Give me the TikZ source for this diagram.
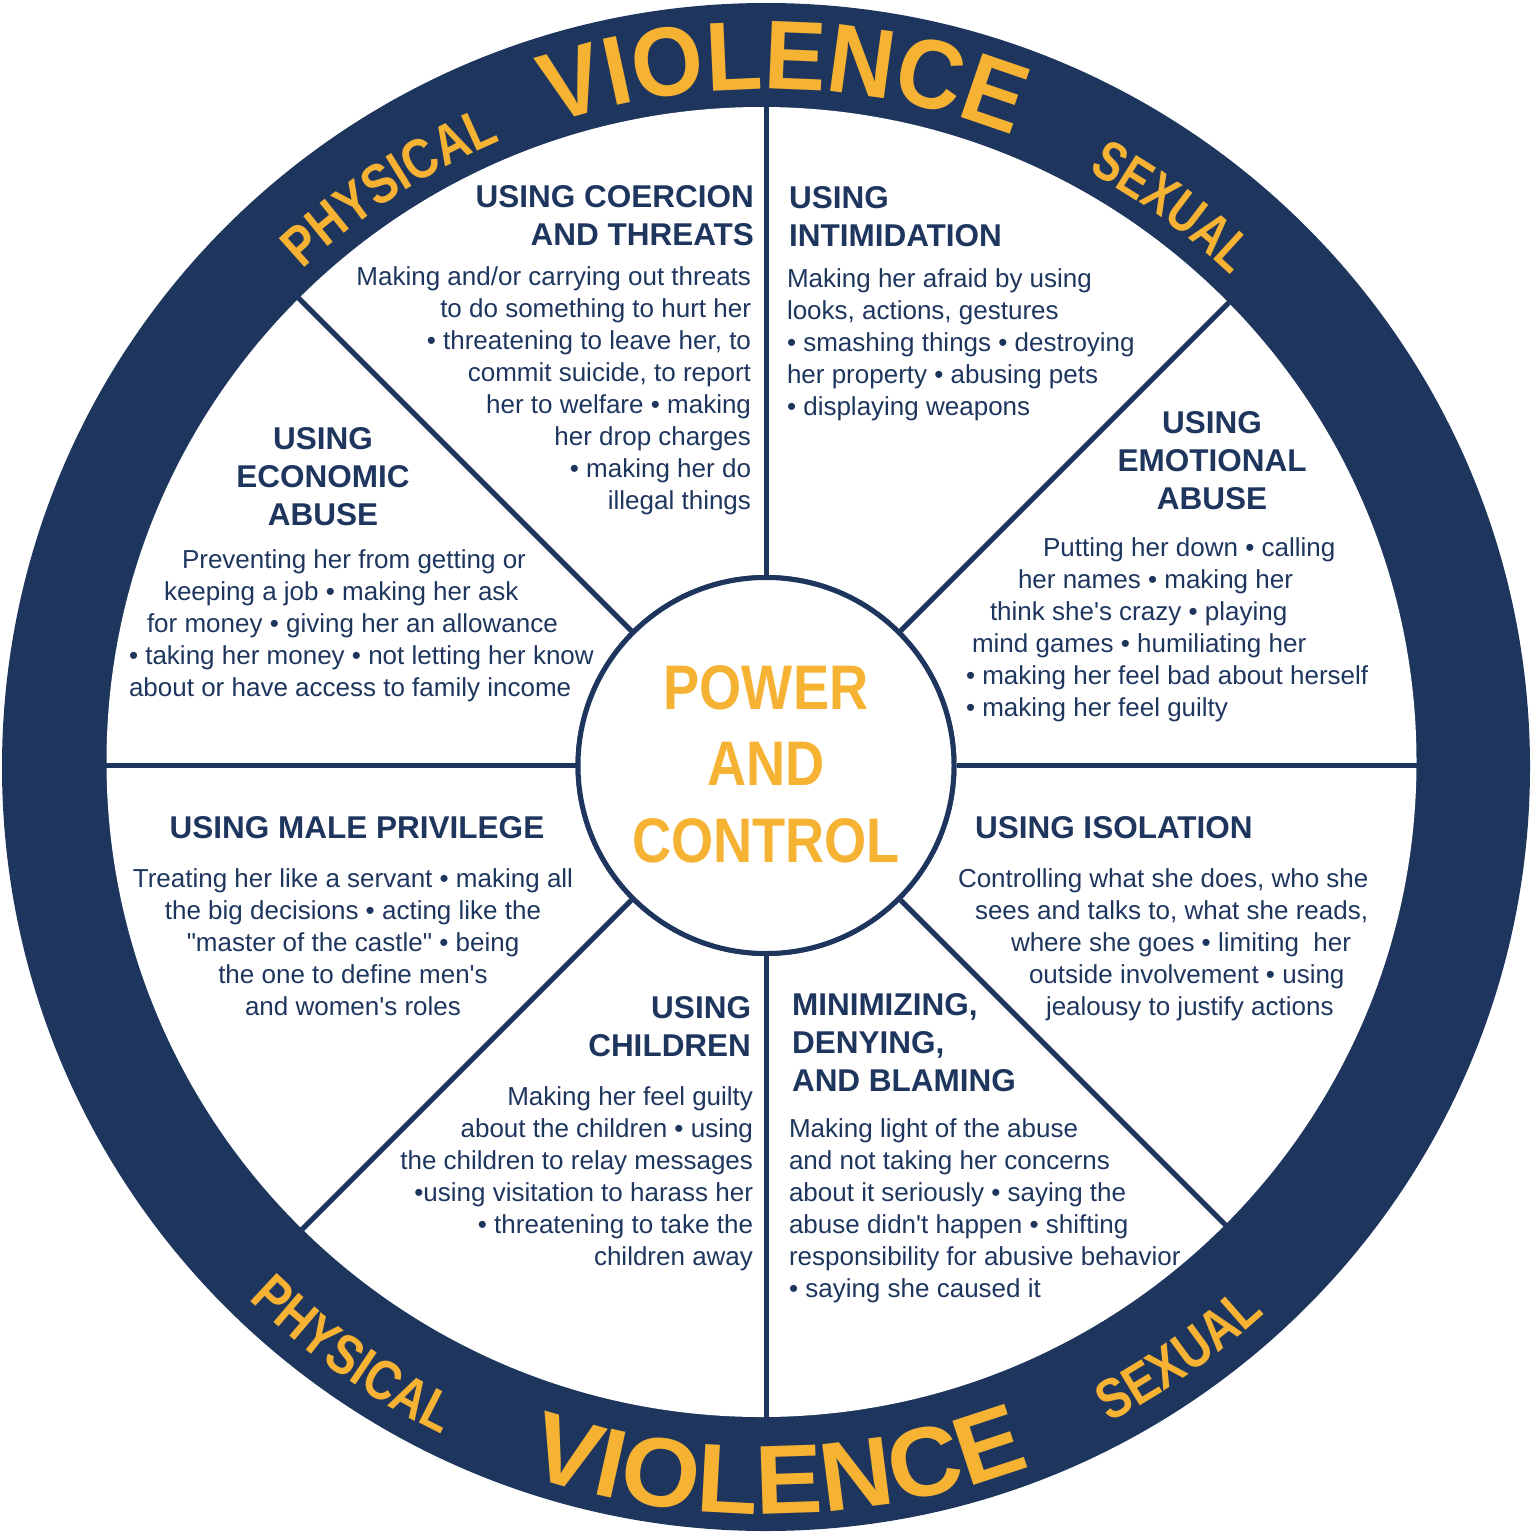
\documentclass[tikz,border=0pt]{standalone}
\usepackage{fontspec}
\setmainfont{Liberation Sans}
\newfontfamily\ringbig[FakeStretch=0.94]{Liberation Sans}
\newfontfamily\ringbot[FakeStretch=1.03]{Liberation Sans}
\newfontfamily\ringsmall[FakeStretch=0.84]{Liberation Sans}
\newfontfamily\ringsex[FakeStretch=0.78]{Liberation Sans}
\newfontfamily\centerfont[FakeStretch=0.86]{Liberation Sans}
\usetikzlibrary{decorations.text,calc}
\definecolor{navy}{RGB}{30,54,94}
\definecolor{gold}{RGB}{246,178,51}
\begin{document}
\begin{tikzpicture}[x=1pt,y=1pt,
  body/.style={text=navy, inner sep=0pt, outer sep=0pt, font=\fontsize{26}{32}\selectfont},
  head/.style={text=navy, inner sep=0pt, outer sep=0pt, font=\fontsize{31.5}{38}\selectfont\bfseries},
  spoke/.style={draw=navy, line width=5pt},
  hub/.style={circle, draw=navy, fill=white, line width=5pt, minimum size=376pt, inner sep=0pt},
]
\useasboundingbox (0,0) rectangle (1533,-1536);
\fill[white] (0,0) rectangle (1533,-1536);
% ring
\coordinate (C) at (766,-766);
\fill[navy] (766,-767) circle[radius=764];
\fill[white] (761.5,-762) circle[radius=655];
% centre circle and spokes
\node[hub] (pc) at (766,-765.5) {};
\foreach \a in {0,45,...,315} {
  \coordinate (s\a) at ($(pc.center)+(\a:700)$);
}
\foreach \a in {0,45,...,315} {
  \draw[spoke] (pc.\a) -- (s\a);
}
\node[hub] (pc2) at (pc.center) {};
\node[anchor=base, inner sep=0pt, text=gold, font=\centerfont\fontsize{63}{76.5}\selectfont\bfseries] (pct) at (766,-709)
  {\begin{tabular}[t]{@{}c@{}}POWER\\AND\\CONTROL\end{tabular}};

% ring texts
\path[decorate, decoration={text along path, text align=center,
  text={|\ringbig\fontsize{98}{98}\selectfont\bfseries\color{gold}|VIOLENCE}}]
  ($(C)+(118.5:677)$) arc[start angle=118.5, end angle=58.5, radius=677];
\path[decorate, decoration={text along path, text align=center,
  text={|\ringsmall\fontsize{56}{56}\selectfont\bfseries\color{gold}|PHYSICAL}}]
  ($(C)+(143:679)$) arc[start angle=143, end angle=103, radius=679];
\path[decorate, decoration={text along path, text align=center,
  text={|\ringsex\fontsize{56}{56}\selectfont\bfseries\color{gold}|SEXUAL}}]
  ($(C)+(74:676)$) arc[start angle=74, end angle=34, radius=676];
\path[decorate, decoration={text along path, text align=center,
  text={|\ringbot\fontsize{98}{98}\selectfont\bfseries\color{gold}|VIOLENCE}}]
  ($(C)+(-119:748)$) arc[start angle=-119, end angle=-59, radius=748];
\path[decorate, decoration={text along path, text align=center,
  text={|\ringsmall\fontsize{56}{56}\selectfont\bfseries\color{gold}|PHYSICAL}}]
  ($(C)+(-145:743)$) arc[start angle=-145, end angle=-105, radius=743];
\path[decorate, decoration={text along path, text align=center,
  text={|\ringsmall\fontsize{56}{56}\selectfont\bfseries\color{gold}|SEXUAL}}]
  ($(C)+(-75:741)$) arc[start angle=-75, end angle=-35, radius=741];

% coercion
\node[head, anchor=base east] (coerH) at (754,-207)
  {\begin{tabular}[t]{@{}r@{}}USING COERCION\\AND THREATS\end{tabular}};
\node[body, anchor=base east] (coerB) at (751,-285)
  {\begin{tabular}[t]{@{}r@{}}Making and/or carrying out threats\\to do something to hurt her\\• threatening to leave her, to\\commit suicide, to report\\her to welfare • making\\her drop charges\\• making her do\\illegal things\end{tabular}};
% intimidation
\node[head, anchor=base west] (intH) at (789,-208)
  {\begin{tabular}[t]{@{}l@{}}USING\\INTIMIDATION\end{tabular}};
\node[body, anchor=base west] (intB) at (787,-287)
  {\begin{tabular}[t]{@{}l@{}}Making her afraid by using\\looks, actions, gestures\\• smashing things • destroying\\her property • abusing pets\\• displaying weapons\end{tabular}};
% economic
\node[head, anchor=base] (ecoH) at (323,-449)
  {\begin{tabular}[t]{@{}c@{}}USING\\ECONOMIC\\ABUSE\end{tabular}};
\node[body, anchor=base west] (ecoB) at (129,-568)
  {\begin{tabular}[t]{@{}l@{}}\hspace*{53pt}Preventing her from getting or\\\hspace*{35pt}keeping a job • making her ask\\\hspace*{18pt}for money • giving her an allowance\\• taking her money • not letting her know\\about or have access to family income\end{tabular}};
% emotional
\node[head, anchor=base] (emoH) at (1212,-433)
  {\begin{tabular}[t]{@{}c@{}}USING\\EMOTIONAL\\ABUSE\end{tabular}};
\node[body, anchor=base west] (emoB) at (966,-556)
  {\begin{tabular}[t]{@{}l@{}}\hspace*{77pt}Putting her down • calling\\\hspace*{52pt}her names • making her\\\hspace*{24pt}think she\textquotesingle s crazy • playing\\\hspace*{6pt}mind games • humiliating her\\• making her feel bad about herself\\• making her feel guilty\end{tabular}};
% male privilege
\node[head, anchor=base] (malH) at (357,-838) {USING MALE PRIVILEGE};
\node[body, anchor=base] (malB) at (353,-887)
  {\begin{tabular}[t]{@{}c@{}}Treating her like a servant • making all\\the big decisions • acting like the\\\textquotedbl master of the castle\textquotedbl\ • being\\the one to define men\textquotesingle s\\and women\textquotesingle s roles\end{tabular}};
% isolation
\node[head, anchor=base west] (isoH) at (975,-838) {USING ISOLATION};
\node[body, anchor=base west] (isoB) at (958,-887)
  {\begin{tabular}[t]{@{}l@{}}Controlling what she does, who she\\\hspace*{17pt}sees and talks to, what she reads,\\\hspace*{53pt}where she goes • limiting\ \ her\\\hspace*{71pt}outside involvement • using\\\hspace*{88pt}jealousy to justify actions\end{tabular}};
% children
\node[head, anchor=base east] (chiH) at (751,-1018)
  {\begin{tabular}[t]{@{}r@{}}USING\\CHILDREN\end{tabular}};
\node[body, anchor=base east] (chiB) at (753,-1105)
  {\begin{tabular}[t]{@{}r@{}}Making her feel guilty\\about the children • using\\the children to relay messages\\•using visitation to harass her\\• threatening to take the\\children away\end{tabular}};
% minimizing
\node[head, anchor=base west] (minH) at (792,-1015)
  {\begin{tabular}[t]{@{}l@{}}MINIMIZING,\\DENYING,\\AND BLAMING\end{tabular}};
\node[body, anchor=base west] (minB) at (789,-1137)
  {\begin{tabular}[t]{@{}l@{}}Making light of the abuse\\and not taking her concerns\\about it seriously • saying the\\abuse didn\textquotesingle t happen • shifting\\responsibility for abusive behavior\\• saying she caused it\end{tabular}};
\end{tikzpicture}
\end{document}
